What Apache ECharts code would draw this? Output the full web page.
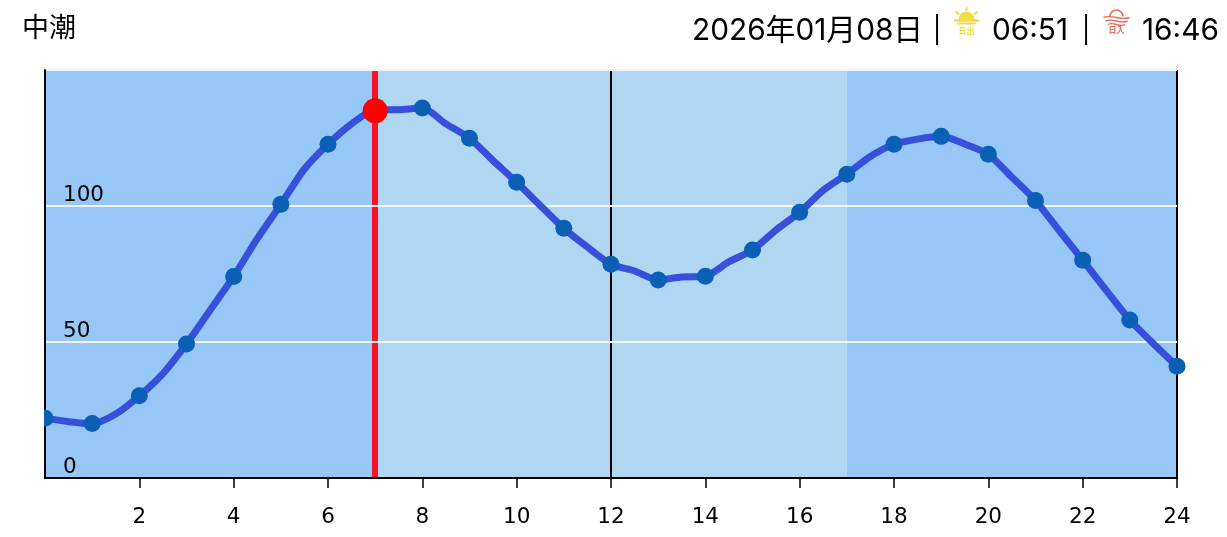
<!DOCTYPE html>
<html><head><meta charset="utf-8">
<style>html,body{margin:0;padding:0;background:#fff}#c{width:1227px;height:537px}</style>
<script src="https://cdn.jsdelivr.net/npm/echarts@6/dist/echarts.min.js"></script>
</head><body><div id="c"></div>
<script>
const halfHours=[0,0.5,1,1.5,2,2.5,3,3.5,4,4.5,5,5.5,6,6.5,7,7.5,8,8.5,9,9.5,10,10.5,11,11.5,12,12.5,13,13.5,14,14.5,15,15.5,16,16.5,17,17.5,18,18.5,19,19.5,20,20.5,21,21.5,22,22.5,23,23.5,24];
const tide=[22,20.7,20,23.5,30.2,38.4,49.3,61.7,74.1,88,100.6,113.6,122.7,130.2,135.3,135.4,136,130.2,124.9,116.7,108.7,100.2,91.8,84.9,78.6,76.1,72.8,73.9,74.2,79.5,83.8,91.2,97.7,105.8,111.7,118.2,122.7,124.6,125.6,122.8,119,110.6,102,91,80.1,69,58.1,49.4,41.1];
const nowHour=7, nowTide=135;
const dayStart=7, dayEnd=17;
const moonName='中潮';
const dateText='2026年01月08日';
const sunrise='06:51', sunset='16:46';
const xTicks=[2,4,6,8,10,12,14,16,18,20,22,24];
const font='Inter,"Noto Sans CJK JP",sans-serif';
const chart=echarts.init(document.getElementById('c'),null,{renderer:'canvas'});
const T=(x,y,t,size,align,fill,w)=>({type:'text',x,y,silent:true,z:20,style:{text:t,font:(w||400)+' '+size+'px '+font,fill:fill||'#000',align:align||'left',verticalAlign:'middle'}});
const yel='#efdc45', red='#ee6a55';
const ln=(x1,y1,x2,y2,c,w)=>({type:'line',silent:true,z:20,shape:{x1,y1,x2,y2},style:{stroke:c,lineWidth:w,lineCap:'round'}});
const wave=(x,y,len,c)=>({type:'bezierCurve',silent:true,z:20,shape:{x1:x,y1:y,x2:x+len,y2:y,cpx1:x+len*0.3,cpy1:y-3.5,cpx2:x+len*0.7,cpy2:y+3.5},style:{stroke:c,lineWidth:1.5,fill:null}});
chart.setOption({
 animation:false,
 grid:{left:45,right:50,top:70,bottom:59},
 xAxis:{type:'value',min:0,max:24,interval:2,z:2,
  axisLine:{show:true,onZero:false,lineStyle:{color:'#000',width:2}},
  axisTick:{show:true,length:10,customValues:xTicks,lineStyle:{color:'#000',width:1.5}},
  axisLabel:{color:'#000',fontSize:21.5,margin:28,fontFamily:'DejaVu Sans',customValues:xTicks},
  splitLine:{show:false}},
 yAxis:{type:'value',min:0,max:150,interval:50,z:2,
  axisLine:{show:true,lineStyle:{color:'#000',width:2}},axisTick:{show:false},
  axisLabel:{inside:true,color:'#000',fontSize:21.5,margin:18,lineHeight:22,fontFamily:'DejaVu Sans',verticalAlign:'bottom',align:'left',formatter:v=>v===150?'':String(v)},
  splitLine:{show:true,lineStyle:{color:'#f2f4f5',width:2}}},
 series:[
  {type:'line',z:3,data:halfHours.map((h,i)=>[h,tide[i]]),smooth:0.25,symbol:'circle',
   symbolSize:v=>Number.isInteger(v[0])?17:0,showAllSymbol:true,clip:false,
   lineStyle:{color:'#3650dc',width:7},itemStyle:{color:'#0b5fb4'},
   markArea:{silent:true,z:0,itemStyle:{opacity:1},data:[
     [{xAxis:0,itemStyle:{color:'#97c7f7'}},{xAxis:dayStart}],
     [{xAxis:dayStart,itemStyle:{color:'#afd7f1'}},{xAxis:dayEnd}],
     [{xAxis:dayEnd,itemStyle:{color:'#97c7f7'}},{xAxis:24}]]},
   markLine:{silent:true,symbol:'none',z:1,label:{show:false},data:[
     {xAxis:12,lineStyle:{color:'#000',width:2,type:'solid'}},
     {xAxis:24,lineStyle:{color:'#000',width:2,type:'solid'}},
     {xAxis:nowHour,lineStyle:{color:'#ff1026',width:6,type:'solid'}}]}},
  {type:'scatter',z:5,data:[[nowHour,nowTide]],symbol:'circle',symbolSize:25,itemStyle:{color:'#ff0000',opacity:1}}
 ],
 graphic:{elements:[
  {type:'rect',silent:true,z:20,shape:{x:30,y:405,width:14,height:26},style:{fill:'#fff'}},
  T(22,29,moonName,27),
  T(692,31,dateText,29.8),
  T(937,31,'|',26,'center'),
  T(992,31,sunrise,29.8),
  T(1086,31,'|',26,'center'),
  T(1142,31,sunset,29.8),
  {type:'sector',silent:true,z:20,shape:{cx:966.5,cy:19.5,r:8,r0:0,startAngle:Math.PI,endAngle:2*Math.PI},style:{fill:yel}},
  ln(955,20.5,978,20.5,yel,2.5),ln(958,23.5,975,23.5,yel,2),
  ln(966.5,8,966.5,10,yel,2),ln(956,12,958.5,14,yel,2),ln(977,12,974.5,14,yel,2),
  T(966.5,32,'日出',8,'center',yel,700),
  {type:'arc',silent:true,z:20,shape:{cx:1116.5,cy:16.5,r:6.5,startAngle:Math.PI,endAngle:2*Math.PI},style:{stroke:red,lineWidth:1.6,fill:null}},
  wave(1103.5,17.5,26,red),wave(1105.5,21,22,red),wave(1108,24.5,17,red),
  T(1116.5,31,'日入',8,'center',red,700)
 ]}
});
</script></body></html>
